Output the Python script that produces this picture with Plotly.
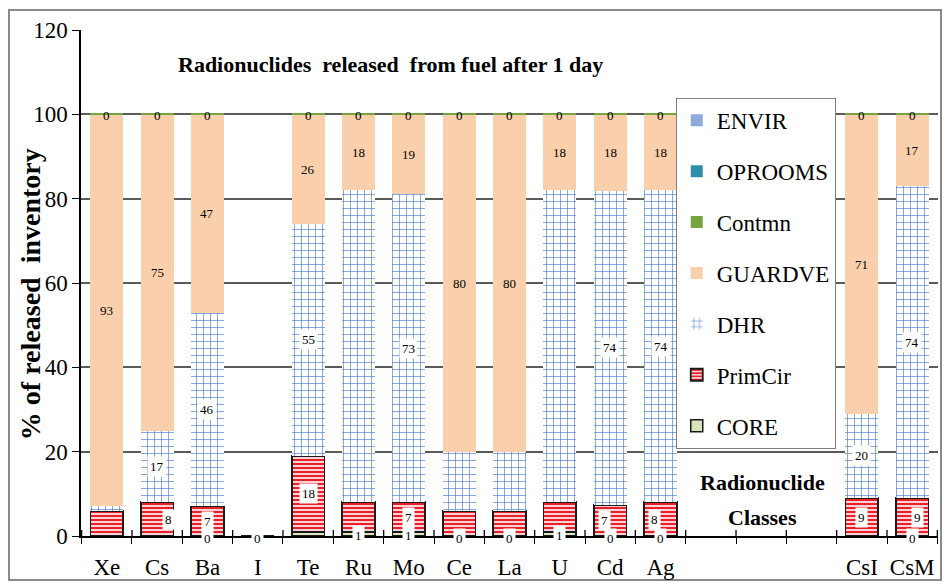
import plotly.graph_objects as go

# Release categories (three unused slots keep CsI / CsM at the right)
categories = ["Xe", "Cs", "Ba", "I", "Te", "Ru", "Mo", "Ce", "La", "U", "Cd", "Ag",
              " ", "  ", "   ", "CsI", "CsM"]

# % of released inventory held in each location (None = unused slot)
core     = [0, 0, 0, 0, 1, 1, 1, 0, 0, 1, 0, 0, None, None, None, 0, 0]
primcir  = [6, 8, 7, 0, 18, 7, 7, 6, 6, 7, 7.4, 8, None, None, None, 9, 9]
dhr      = [1, 17, 46, 0, 55, 74, 73, 14, 14, 74, 74.4, 74, None, None, None, 20, 74]
guardve  = [93, 75, 47, 0, 26, 18, 19, 80, 80, 18, 18.2, 18, None, None, None, 71, 17]
contmn   = [0.3, 0.3, 0.3, 0, 0.3, 0.3, 0.3, 0.3, 0.3, 0.3, 0.3, 0.3, None, None, None, 0.3, 0.3]
oprooms  = [0, 0, 0, 0, 0, 0, 0, 0, 0, 0, 0, 0, None, None, None, 0, 0]
envir    = [0, 0, 0, 0, 0, 0, 0, 0, 0, 0, 0, 0, None, None, None, 0, 0]

# Which bars carry a value label, per location
labelled = {
    "CORE":    ["Ba", "I", "Ru", "Mo", "Ce", "La", "U", "Cd", "Ag", "CsM"],
    "PrimCir": ["Cs", "Ba", "Te", "Mo", "Cd", "Ag", "CsI", "CsM"],
    "DHR":     ["Cs", "Ba", "Te", "Mo", "Cd", "Ag", "CsI", "CsM"],
    "GUARDVE": ["Xe", "Cs", "Ba", "Te", "Ru", "Mo", "Ce", "La", "U", "Cd", "Ag", "CsI", "CsM"],
    "Contmn":  ["Xe", "Cs", "Ba", "Te", "Ru", "Mo", "Ce", "La", "U", "Cd", "Ag", "CsI", "CsM"],
}
# small horizontal nudges of individual labels (px)
nudge = {("PrimCir", "Cs"): 11, ("PrimCir", "Cd"): -6, ("PrimCir", "Ag"): -6,
         ("PrimCir", "CsM"): 5}

SERIF = "Liberation Serif, Times New Roman, serif"

series = [
    ("CORE", core, dict(color="#D7E4BD", line=dict(color="#1a1a1a", width=1.5))),
    ("PrimCir", primcir, dict(color="white", line=dict(color="#1a1a1a", width=1.8),
                              pattern=dict(shape="-", fgcolor="#E8202A", bgcolor="white",
                                           size=4, solidity=0.6, fillmode="replace"))),
    ("DHR", dhr, dict(color="white", line=dict(width=0),
                      pattern=dict(shape="+", fgcolor="#4A7BD0", bgcolor="white",
                                   size=7, solidity=0.18, fillmode="replace"))),
    ("GUARDVE", guardve, dict(color="#FAD0AC", line=dict(width=0))),
    ("Contmn", contmn, dict(color="#77A43C", line=dict(width=0))),
    ("OPROOMS", oprooms, dict(color="#2F8FA8", line=dict(width=0))),
    ("ENVIR", envir, dict(color="#8EA9DB", line=dict(width=0))),
]

fig = go.Figure()
n_series = len(series)
for k, (name, vals, marker) in enumerate(series):
    fig.add_trace(go.Bar(x=categories, y=vals, name=name, marker=marker,
                         legendgroup=name, legendrank=n_series - k,
                         hoverinfo="x+y+name"))

# value labels placed at the middle of each stacked segment
annotations = []
base = [0.0] * len(categories)
for name, vals, _ in series:
    for i, v in enumerate(vals):
        if v is None:
            continue
        cat = categories[i]
        if cat in labelled.get(name, []):
            mid = base[i] + v / 2.0
            boxed = name in ("CORE", "PrimCir", "DHR")
            annotations.append(dict(
                x=cat, y=mid, xref="x", yref="y", text=f"{round(v):d}",
                showarrow=False, xshift=nudge.get((name, cat), 0),
                yshift=-2 if name in ("Contmn", "CORE") else 0,
                font=dict(family=SERIF, size=13, color="black"),
                bgcolor="white" if boxed else "rgba(0,0,0,0)", borderpad=2))
        base[i] += v

annotations += [
    dict(text="<b>Radionuclides  released  from fuel after 1 day</b>", xref="paper", yref="paper",
         x=0.111, y=0.931, xanchor="left", yanchor="middle", showarrow=False,
         font=dict(family=SERIF, size=22, color="black")),
    dict(text="<b>% of released  inventory</b>", xref="paper", yref="paper",
         x=-0.0595, y=0.478, xanchor="center", yanchor="middle", textangle=-90,
         showarrow=False, font=dict(family=SERIF, size=28, color="black")),
    dict(text="<b>Radionuclide</b>", xref="paper", yref="paper", x=0.795, y=0.105,
         xanchor="center", yanchor="middle", showarrow=False,
         font=dict(family=SERIF, size=22, color="black")),
    dict(text="<b>Classes</b>", xref="paper", yref="paper", x=0.795, y=0.037,
         xanchor="center", yanchor="middle", showarrow=False,
         font=dict(family=SERIF, size=22, color="black")),
]

# tick marks crossing the category axis (inner half)
shapes = [dict(type="line", xref="x", yref="y", x0=k - 0.5, x1=k - 0.5, y0=0, y1=1.45,
               line=dict(color="black", width=1.3)) for k in range(len(categories) + 1)]
# chart frame
shapes.append(dict(type="rect", xref="paper", yref="paper", x0=-0.084, x1=1.0035,
                   y0=-0.087, y1=1.0395, line=dict(color="#8a8a8a", width=2),
                   fillcolor="rgba(0,0,0,0)", layer="below"))

fig.update_layout(
    width=946, height=587,
    margin=dict(l=81, r=8, t=30, b=51),
    barmode="stack", bargap=0.35,
    plot_bgcolor="white", paper_bgcolor="white",
    font=dict(family=SERIF, size=23, color="black"),
    annotations=annotations, shapes=shapes,
    showlegend=True,
    legend=dict(x=0.694, y=0.866, xanchor="left", yanchor="top",
                traceorder="grouped", tracegroupgap=18,
                bgcolor="white", bordercolor="#7f7f7f", borderwidth=1,
                font=dict(family=SERIF, size=23, color="black")),
    xaxis=dict(type="category", categoryorder="array", categoryarray=categories,
               tickson="boundaries", ticks="outside", ticklen=6, tickwidth=1.3,
               tickcolor="black", showline=True, linecolor="black", linewidth=1.5,
               showgrid=False, ticklabelstandoff=10, tickangle=0, automargin=False,
               tickfont=dict(family=SERIF, size=23, color="black")),
    yaxis=dict(range=[0, 120], dtick=20, ticks="outside", ticklen=7, tickwidth=1.3,
               tickcolor="black", showline=True, linecolor="black", linewidth=1.5,
               showgrid=True, gridcolor="#5a5a5a", gridwidth=1.5, zeroline=False,
               automargin=False,
               tickfont=dict(family=SERIF, size=23, color="black")),
)

fig.write_html("out.html")
